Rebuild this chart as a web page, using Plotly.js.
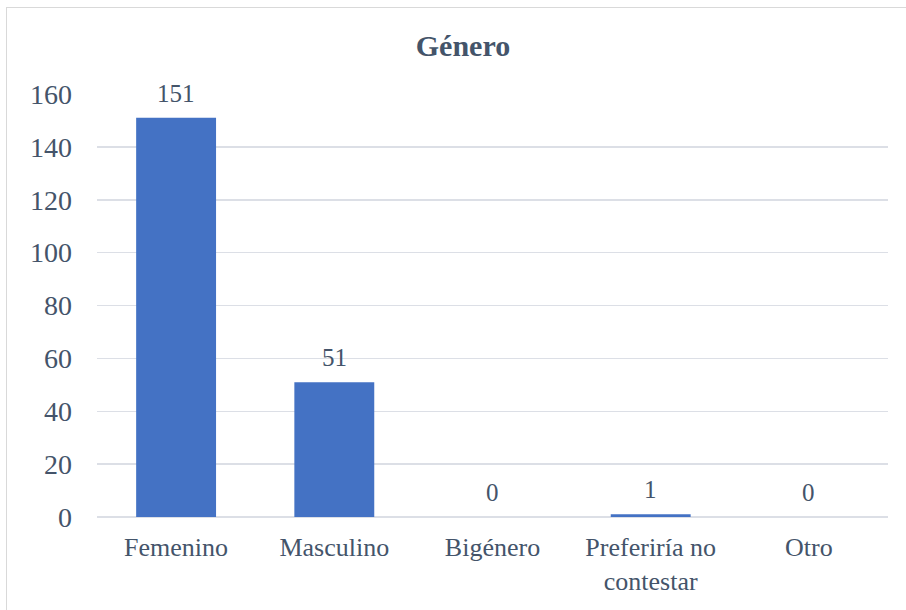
<!DOCTYPE html>
<html>
<head>
<meta charset="utf-8">
<script src="https://cdn.plot.ly/plotly-3.0.1.min.js"></script>
<style>
html,body{margin:0;padding:0;background:#fff;}
#frame{position:absolute;left:6px;top:7px;width:910px;height:610px;border:1px solid #d9d9d9;box-sizing:border-box;}
#chart{position:absolute;left:0;top:0;width:906px;height:610px;}
</style>
</head>
<body>
<div id="frame"></div>
<div id="chart"></div>
<script>
const categories = ["Femenino", "Masculino", "Bigénero", "Preferiría no<br>contestar", "Otro"];
const counts = [151, 51, 0, 1, 0];
const tickValues = [0, 20, 40, 60, 80, 100, 120, 140, 160];
const chartTitle = "Género";

const textColor = "#44546A";
const fontFam = "Times New Roman";

const labelAnnotations = categories.map((c, i) => ({
  x: c, y: counts[i], xref: "x", yref: "y",
  text: String(counts[i]), showarrow: false,
  xanchor: "center", yanchor: "bottom", yshift: 9,
  font: {family: fontFam, size: 25, color: textColor}
}));

Plotly.newPlot("chart", [{
  type: "bar",
  x: categories,
  y: counts,
  marker: {color: "#4472C4", line: {width: 0}},
  hoverinfo: "x+y"
}], {
  width: 906, height: 610,
  paper_bgcolor: "rgba(0,0,0,0)",
  plot_bgcolor: "rgba(0,0,0,0)",
  margin: {l: 97, r: 18, t: 94, b: 93},
  bargap: 0.495,
  showlegend: false,
  annotations: labelAnnotations,
  title: {text: "<b>" + chartTitle + "</b>", x: 0.511, xanchor: "center", y: 0.926, yanchor: "middle",
          font: {family: fontFam, size: 30, color: textColor}},
  xaxis: {
    tickfont: {family: fontFam, size: 26, color: textColor},
    showline: false, showgrid: false, ticks: "", ticklabelstandoff: 12
  },
  yaxis: {
    range: [0, 160],
    tickvals: tickValues,
    ticktext: tickValues.map(String),
    tickfont: {family: fontFam, size: 28, color: textColor},
    showgrid: true, gridcolor: "#dcdfe6", gridwidth: 1.5,
    zeroline: true, zerolinecolor: "#dcdfe6", zerolinewidth: 1.5,
    ticks: "", ticklabelstandoff: 24, showline: false
  }
}, {displayModeBar: false, staticPlot: true});
</script>
</body>
</html>
